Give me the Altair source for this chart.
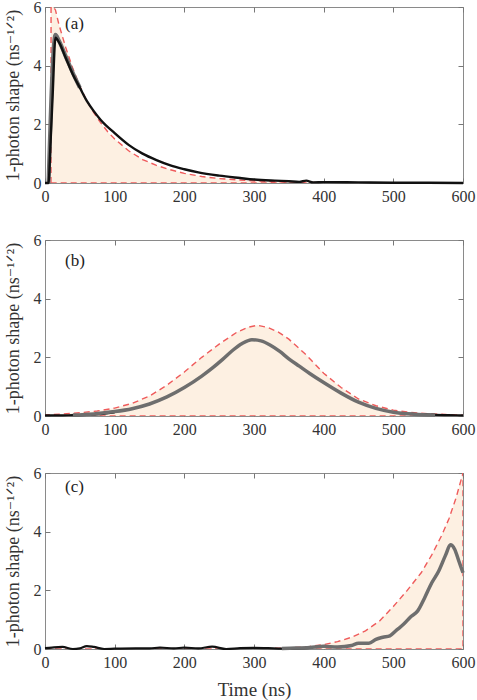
import altair as alt
import pandas as pd

# ---------------- data ----------------
x_ticks = [0, 100, 200, 300, 400, 500, 600]
y_ticks = [0, 2, 4, 6]

# Panel (a)
a_target_t = [8.6, 8.7, 12, 15, 20, 30, 40, 50, 60, 70, 80, 90, 100, 120, 140, 160, 180, 200, 225, 250, 300, 350, 400, 500, 600]
a_target_v = [0, 6.7, 6.2, 5.9, 5.4, 4.6, 3.9, 3.3, 2.8, 2.4, 2.05, 1.75, 1.5, 1.1, 0.8, 0.6, 0.45, 0.33, 0.22, 0.15, 0.07, 0.03, 0.015, 0.003, 0]
a_grey_t = [5, 15, 20, 30, 40, 50]
a_grey_v = [0, 5.05, 4.85, 4.3, 3.75, 3.25]
a_black_t = [0, 5, 8, 11, 15, 20, 30, 40, 50, 60, 70, 80, 100, 120, 140, 160, 180, 200, 220, 250, 280, 300, 330, 350, 365, 375, 385, 400, 450, 500, 550, 600]
a_black_v = [0, 0, 1.4, 3.0, 4.95, 4.8, 4.25, 3.7, 3.25, 2.8, 2.45, 2.15, 1.7, 1.3, 1.0, 0.78, 0.6, 0.47, 0.36, 0.25, 0.17, 0.12, 0.08, 0.06, 0.04, 0.08, 0.02, 0.03, 0.02, 0.01, 0.01, 0.0]

# Panel (b)
b_target_t = [0, 25, 50, 75, 100, 125, 150, 175, 200, 225, 250, 275, 292, 305, 320, 335, 350, 375, 400, 425, 450, 475, 500, 525, 550, 575, 600]
b_target_v = [0.04, 0.07, 0.11, 0.17, 0.27, 0.43, 0.68, 1.05, 1.5, 2.0, 2.45, 2.85, 3.03, 3.09, 3.02, 2.86, 2.62, 2.08, 1.46, 0.97, 0.58, 0.35, 0.2, 0.12, 0.08, 0.05, 0.03]
b_grey_t = [40, 70, 100, 125, 150, 175, 200, 225, 240, 255, 270, 283, 297, 310, 323, 337, 350, 365, 380, 400, 425, 450, 475, 500, 530, 560]
b_grey_v = [0.03, 0.07, 0.15, 0.25, 0.41, 0.65, 0.97, 1.36, 1.63, 1.93, 2.25, 2.47, 2.6, 2.56, 2.42, 2.2, 1.95, 1.7, 1.45, 1.14, 0.78, 0.47, 0.26, 0.13, 0.06, 0.03]
b_black1_t = [0, 20, 40, 60, 80, 100]
b_black1_v = [0.02, 0.02, 0.03, 0.04, 0.06, 0.12]
b_black2_t = [500, 520, 540, 560, 580, 600]
b_black2_v = [0.12, 0.08, 0.06, 0.04, 0.03, 0.02]

# Panel (c)
c_target_t = [0, 100, 200, 300, 340, 360, 380, 400, 420, 440, 460, 480, 500, 520, 540, 555, 570, 580, 590, 600]
c_target_v = [0, 0, 0, 0.01, 0.03, 0.05, 0.09, 0.15, 0.25, 0.4, 0.62, 0.95, 1.45, 2.0, 2.6, 3.2, 3.9, 4.45, 5.15, 6.0]
c_grey_t = [340, 360, 380, 400, 420, 440, 450, 465, 475, 485, 495, 505, 515, 525, 535, 545, 555, 565, 575, 582, 588, 594, 600]
c_grey_v = [0.02, 0.03, 0.05, 0.09, 0.07, 0.12, 0.2, 0.2, 0.33, 0.4, 0.45, 0.65, 0.85, 1.1, 1.3, 1.75, 2.25, 2.65, 3.2, 3.55, 3.4, 3.0, 2.6]
c_black_t = [0, 10, 25, 40, 50, 60, 70, 85, 100, 130, 150, 165, 185, 200, 220, 240, 260, 280, 300, 320, 340, 360, 380]
c_black_v = [0.03, 0.05, 0.07, -0.04, 0.02, 0.1, 0.07, 0.0, 0.01, 0.02, 0.02, 0.05, 0.02, 0.05, 0.02, 0.08, -0.01, 0.03, 0.04, 0.03, 0.01, 0.02, 0.04]

panel_labels = ["(a)", "(b)", "(c)"]

# ---------------- styling ----------------
FONT = "Liberation Serif, Times New Roman, Times, DejaVu Serif, serif"
RED = "#ef5b5b"
FILL = "#fdf0e2"
GREY = "#6e6e6e"
BLACK = "#111111"
W, H = 418, 176

xscale = alt.Scale(domain=[0, 600], nice=False, zero=False)
yscale = alt.Scale(domain=[0, 6], nice=False, zero=False, clamp=True)


def df(t, v):
    return pd.DataFrame({"t": t, "v": v})


def outline(t, v):
    pts_t = [t[0]] + list(t) + [t[-1], t[0]]
    pts_v = [0] + list(v) + [0, 0]
    return pd.DataFrame({"t": pts_t, "v": pts_v, "o": list(range(len(pts_t)))})


def panel(tt, tv, lines, label, label_y, show_title):
    x_main = alt.X(
        "t:Q", scale=xscale,
        axis=alt.Axis(values=x_ticks, orient="bottom", offset=-5, tickSize=5, domain=False,
                      grid=False, labelPadding=5, labelFlush=False,
                      title="Time (ns)" if show_title else None,
                      titlePadding=10, titleFontSize=19),
    )
    y_main = alt.Y(
        "v:Q", scale=yscale,
        axis=alt.Axis(values=y_ticks, orient="left", offset=-5, tickSize=5, domain=False,
                      grid=False, labelPadding=4, labelFlush=False,
                      title="1-photon shape (ns\u207b\u00b9\u141f\u00b2)",
                      titlePadding=11, titleFontSize=18),
    )
    x_none = alt.X("t:Q", scale=xscale, axis=None)
    y_none = alt.Y("v:Q", scale=yscale, axis=None)

    area = alt.Chart(df(tt, tv)).mark_area(color=FILL, clip=True, opacity=1).encode(x=x_main, y=y_main)
    layers = [area]
    red = alt.Chart(outline(tt, tv)).mark_line(color=RED, strokeWidth=1.4, strokeDash=[6, 4],
                                               clip=True).encode(x=x_none, y=y_none, order="o:Q")
    layers.append(red)
    for (lt, lv, color, width) in lines:
        layers.append(
            alt.Chart(df(lt, lv)).mark_line(color=color, strokeWidth=width, interpolate="monotone"
                                            ).encode(x=x_none, y=y_none)
        )
    # mirrored inward ticks on top and right
    mirror = alt.Chart(df(tt, tv)).mark_line(opacity=0).encode(
        x=alt.X("t:Q", scale=xscale,
                axis=alt.Axis(values=x_ticks, orient="top", offset=-5, tickSize=5, domain=False,
                              labels=False, grid=False, title=None)),
        y=alt.Y("v:Q", scale=yscale,
                axis=alt.Axis(values=y_ticks, orient="right", offset=-5, tickSize=5, domain=False,
                              labels=False, grid=False, title=None)),
    )
    layers.append(mirror)
    text = alt.Chart(pd.DataFrame({"s": [label]})).mark_text(
        font=FONT, fontSize=17, align="left", baseline="middle", color="#222"
    ).encode(x=alt.value(20), y=alt.value(label_y), text="s:N")
    layers.append(text)
    return alt.layer(*layers).resolve_axis(x="independent", y="independent").properties(width=W, height=H)


pa = panel(a_target_t, a_target_v,
           [(a_grey_t, a_grey_v, GREY, 4), (a_black_t, a_black_v, BLACK, 2.4)],
           panel_labels[0], 17, False)
pb = panel(b_target_t, b_target_v,
           [(b_black1_t, b_black1_v, BLACK, 2.2), (b_black2_t, b_black2_v, BLACK, 2.2),
            (b_grey_t, b_grey_v, GREY, 3.5)],
           panel_labels[1], 21, False)
pc = panel(c_target_t, c_target_v,
           [(c_black_t, c_black_v, BLACK, 2.2), (c_grey_t, c_grey_v, GREY, 3.5)],
           panel_labels[2], 14, True)

chart = alt.vconcat(pa, pb, pc, spacing=57, bounds="flush").properties(
    padding={"left": 3, "top": -2, "right": 0, "bottom": 0},
    background="white",
).configure_view(stroke="#8a8a8a", strokeWidth=1).configure_axis(
    labelFont=FONT, labelFontSize=16, labelColor="#333", tickColor="#777", tickWidth=1,
    titleFont=FONT, titleFontSize=18, titleColor="#333", titleFontWeight="normal",
)

chart.save("out.html", embed_options={"renderer": "svg", "actions": False})
